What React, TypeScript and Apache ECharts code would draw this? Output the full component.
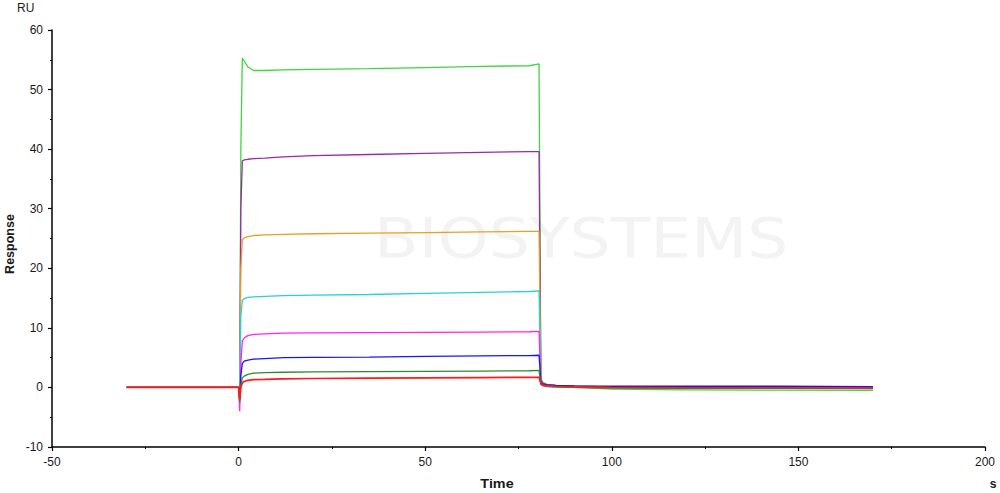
import React, { useEffect, useRef } from "react";
import * as echarts from "echarts";

const times = [-30, -20, -10, -0.5, 0, 0.3, 0.6, 1, 1.5, 2.5, 4, 7, 12, 20, 35, 50, 65, 78, 80.5, 81, 81.5, 82.5, 85, 90, 100, 120, 145, 170];

const greenVals = [0, 0, 0, 0, 0, -1, 40, 55.3, 54.8, 53.8, 53.2, 53.2, 53.3, 53.4, 53.5, 53.7, 53.9, 54.0, 54.3, 1.5, 0.9, 0.5, 0.2, 0.0, -0.3, -0.4, -0.45, -0.5];
const purpleVals = [0, 0, 0, 0, 0, -0.5, 30, 38.0, 38.2, 38.3, 38.4, 38.5, 38.7, 38.9, 39.1, 39.3, 39.45, 39.6, 39.6, 1.2, 0.7, 0.5, 0.35, 0.2, 0.1, 0.05, 0.05, 0.0];
const orangeVals = [0, 0, 0, 0, 0, -0.3, 20, 24.8, 25.1, 25.3, 25.5, 25.6, 25.7, 25.8, 25.9, 26.0, 26.1, 26.2, 26.2, 1.0, 0.6, 0.45, 0.3, 0.2, 0.1, 0.05, 0.0, 0.0];
const cyanVals = [0, 0, 0, 0, 0, -1, 12, 14.6, 14.9, 15.1, 15.2, 15.3, 15.4, 15.5, 15.6, 15.8, 15.95, 16.1, 16.2, 0.9, 0.55, 0.4, 0.3, 0.2, 0.1, 0.05, 0.05, 0.0];
const magentaVals = [0, 0, 0, 0, 0, -4, 4, 7.8, 8.3, 8.7, 8.9, 9.0, 9.1, 9.15, 9.2, 9.25, 9.3, 9.35, 9.4, 0.8, 0.5, 0.35, 0.25, 0.15, 0.1, 0.05, 0.1, 0.0];
const blueVals = [0, 0, 0, 0, 0, -2, 2, 4.0, 4.4, 4.6, 4.75, 4.85, 5.0, 5.05, 5.1, 5.2, 5.3, 5.35, 5.4, 0.9, 0.6, 0.45, 0.35, 0.25, 0.2, 0.2, 0.2, 0.15];
const darkGreenVals = [0, 0, 0, 0, 0, -2.5, 0.5, 1.6, 1.9, 2.2, 2.4, 2.5, 2.55, 2.6, 2.65, 2.7, 2.75, 2.8, 2.85, 0.5, 0.3, 0.15, 0.05, 0.0, -0.1, -0.15, -0.15, -0.2];
const redVals = [0, 0, 0, 0, 0, -2, 0, 0.8, 1.0, 1.2, 1.3, 1.35, 1.45, 1.5, 1.55, 1.6, 1.65, 1.7, 1.7, 0.6, 0.4, 0.3, 0.2, 0.1, 0.0, -0.05, -0.05, -0.1];

const seriesList = [
  { name: "c1", color: "#3ed63e", values: greenVals },
  { name: "c2", color: "#9b2aa3", values: purpleVals },
  { name: "c3", color: "#e6a028", values: orangeVals },
  { name: "c4", color: "#22d4d4", values: cyanVals },
  { name: "c5", color: "#ff22ff", values: magentaVals },
  { name: "c6", color: "#1515ff", values: blueVals },
  { name: "c7", color: "#2e8a2e", values: darkGreenVals },
  { name: "c8", color: "#ff1a1a", values: redVals },
];

export default function App() {
  const ref = useRef<HTMLDivElement>(null);
  useEffect(() => {
    if (!ref.current) return;
    const chart = echarts.init(ref.current, null, { renderer: "svg" });
    const ff = "Liberation Sans, Arial, sans-serif";
    const labelFont = { fontFamily: ff, fontSize: 12, color: "#1a1a1a" };
    chart.setOption({
      animation: false,
      backgroundColor: "#ffffff",
      grid: { left: 52, right: 15, top: 30, bottom: 46 },
      graphic: [
        {
          type: "text",
          x: 374,
          y: 238,
          scaleX: 1.18,
          silent: true,
          z: -10,
          style: { text: "BIOSYSTEMS", fontSize: 55, fontFamily: "DejaVu Sans, sans-serif", fill: "#f3f3f3", verticalAlign: "middle" },
        },
        { type: "text", left: 17, top: 2, style: { text: "RU", fontFamily: ff, fontSize: 12, fill: "#1a1a1a" } },
        {
          type: "text",
          x: 10,
          y: 244,
          rotation: Math.PI / 2,
          style: { text: "Response", fontFamily: ff, fontSize: 12.5, fontWeight: "bold", fill: "#1a1a1a", align: "center", verticalAlign: "middle" },
        },
        {
          type: "text",
          x: 497,
          y: 484,
          scaleX: 1.15,
          style: { text: "Time", fontFamily: ff, fontSize: 12.5, fontWeight: "bold", fill: "#1a1a1a", align: "center", verticalAlign: "middle" },
        },
        {
          type: "text",
          x: 993,
          y: 484,
          style: { text: "s", fontFamily: ff, fontSize: 12, fontWeight: "bold", fill: "#1a1a1a", align: "center", verticalAlign: "middle" },
        },
      ],
      xAxis: {
        type: "value",
        min: -50,
        max: 200,
        interval: 50,
        axisLine: { show: true, onZero: false, lineStyle: { color: "#000", width: 1.5 } },
        axisTick: { show: true, length: 4, lineStyle: { color: "#000", width: 1.2 } },
        minorTick: { show: true, splitNumber: 2, length: 2, lineStyle: { color: "#000", width: 1 } },
        splitLine: { show: false },
        axisLabel: { margin: 9, ...labelFont },
      },
      yAxis: {
        type: "value",
        min: -10,
        max: 60,
        interval: 10,
        axisLine: { show: true, onZero: false, lineStyle: { color: "#000", width: 1.5 } },
        axisTick: { show: true, length: 4, lineStyle: { color: "#000", width: 1.2 } },
        minorTick: { show: true, splitNumber: 2, length: 2, lineStyle: { color: "#000", width: 1 } },
        splitLine: { show: false },
        axisLabel: { margin: 9, ...labelFont },
      },
      series: seriesList.map((s, idx) => ({
        name: s.name,
        type: "line",
        showSymbol: false,
        symbol: "none",
        z: 2 + idx,
        lineStyle: { color: s.color, width: idx === seriesList.length - 1 ? 1.7 : 1.3 },
        itemStyle: { color: s.color },
        data: times.map((t, i) => [t, s.values[i]]),
      })),
    });
    return () => chart.dispose();
  }, []);
  return <div ref={ref} style={{ position: "fixed", left: 0, top: 0, width: 1000, height: 493 }} />;
}
